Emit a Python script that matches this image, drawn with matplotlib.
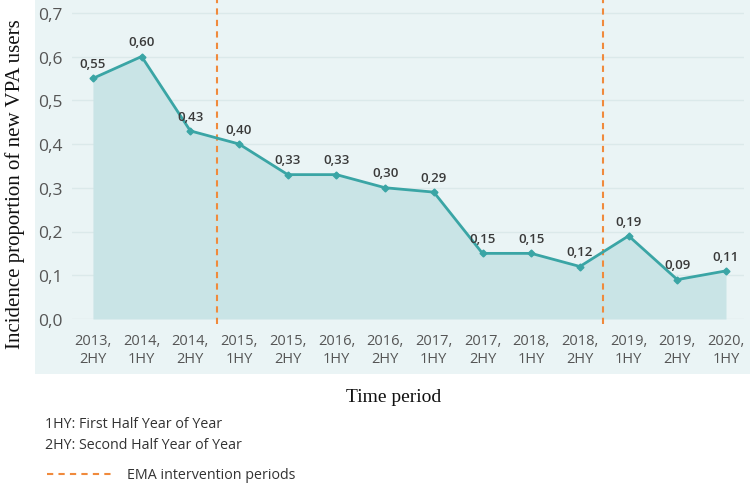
import matplotlib
matplotlib.use("Agg")
import matplotlib.pyplot as plt
from matplotlib.patches import Rectangle
from matplotlib.lines import Line2D

periods = ["2013,\n2HY", "2014,\n1HY", "2014,\n2HY", "2015,\n1HY", "2015,\n2HY", "2016,\n1HY",
           "2016,\n2HY", "2017,\n1HY", "2017,\n2HY", "2018,\n1HY", "2018,\n2HY", "2019,\n1HY",
           "2019,\n2HY", "2020,\n1HY"]
values = [0.55, 0.60, 0.43, 0.40, 0.33, 0.33, 0.30, 0.29, 0.15, 0.15, 0.12, 0.19, 0.09, 0.11]
interventions = [2.55, 10.47]
yticks = [0.0, 0.1, 0.2, 0.3, 0.4, 0.5, 0.6, 0.7]

W, H = 751, 485
fig = plt.figure(figsize=(W / 100, H / 100), dpi=100)
fig.patch.set_facecolor("white")

# background panel
fig.patches.append(Rectangle((35 / W, 1 - 375 / H), (750 - 35) / W, 375 / H,
                             transform=fig.transFigure, facecolor="#eaf4f5",
                             edgecolor="none", zorder=-10))

ax = fig.add_axes([72 / W, 1 - 320 / H, (744 - 72) / W, (320 - 5) / H])
ax.set_zorder(1)
ax.set_facecolor("none")
x = list(range(len(values)))
line_c = "#3aa5a5"
ax.fill_between(x, values, 0, color="#c9e4e6", zorder=1, linewidth=0)
ax.plot(x, values, color=line_c, lw=2, marker="D", ms=3.5, zorder=3)

for xi, v in zip(x, values):
    ax.annotate(f"{v:.2f}".replace(".", ","), (xi, v), xytext=(0, 6),
                textcoords="offset points", ha="center", va="bottom",
                fontsize=9.5, color="#3a3a3a", fontweight="semibold",
                family="Open Sans", zorder=4)

for xv in interventions:
    ax.plot([xv, xv], [-0.012, 0.735], ls=(0, (3, 2.5)), color="#f08a3c", lw=1.5,
            clip_on=False, zorder=2)

ax.set_xlim(-0.43, 13.37)
ax.set_ylim(0, 0.72)
ax.set_yticks(yticks)
ax.set_yticklabels([f"{t:.1f}".replace(".", ",") for t in yticks], fontsize=12.5,
                   color="#555555", family="Open Sans")
ax.set_xticks(x)
ax.set_xticklabels(periods, fontsize=10.5, color="#555555", family="Open Sans",
                   linespacing=1.25)
ax.tick_params(axis="x", length=0, pad=10)
ax.tick_params(axis="y", length=0, pad=7)
ax.grid(axis="y", color="#dbe9ea", lw=1)
ax.set_axisbelow(True)
for s in ax.spines.values():
    s.set_visible(False)

fig.text(15 / W, 1 - 184 / H, "Incidence proportion of new VPA users", rotation=90,
         ha="center", va="center", fontsize=15, family="Liberation Serif", color="#111111")
fig.text(394 / W, 1 - 398 / H, "Time period", ha="center", va="center",
         fontsize=14, family="Liberation Serif", color="#111111")

fig.text(45 / W, 1 - 425 / H, "1HY: First Half Year of Year", ha="left", va="center",
         fontsize=10.3, family="Open Sans", color="#333333")
fig.text(45 / W, 1 - 446 / H, "2HY: Second Half Year of Year", ha="left", va="center",
         fontsize=10.3, family="Open Sans", color="#333333")
fig.lines.append(Line2D([47 / W, 113 / W], [1 - 475 / H, 1 - 475 / H],
                        transform=fig.transFigure, ls=(0, (3, 2.5)), color="#f08a3c", lw=1.5))
fig.text(127 / W, 1 - 476 / H, "EMA intervention periods", ha="left", va="center",
         fontsize=10.3, family="Open Sans", color="#333333")

fig.savefig("out.png", dpi=100)
